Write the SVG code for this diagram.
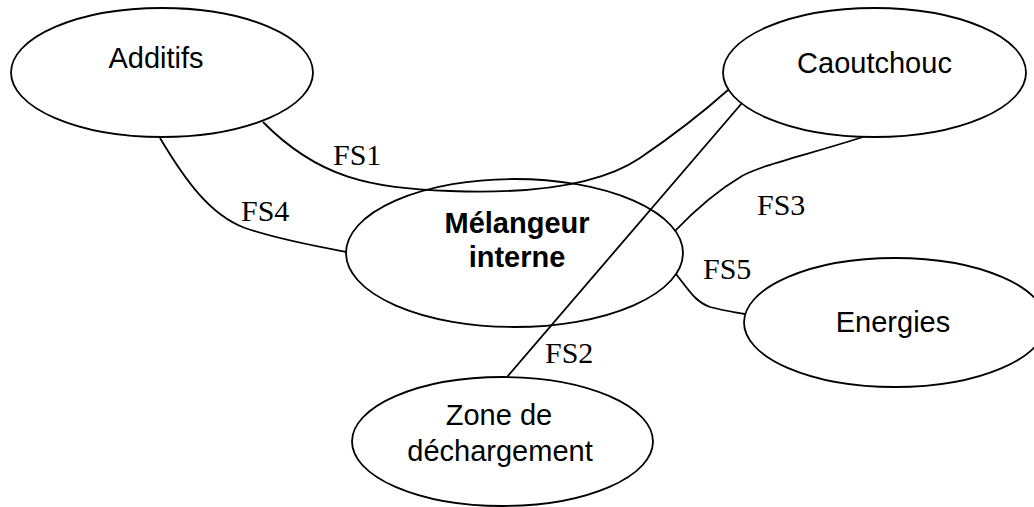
<svg xmlns="http://www.w3.org/2000/svg" width="1034" height="507" viewBox="0 0 1034 507">
<style>
.n{fill:none;stroke:#000;stroke-width:1.8}
.c{fill:none;stroke:#000;stroke-width:1.8}
.t{font-family:"Liberation Sans",Arial,sans-serif;font-size:29px;fill:#000;text-anchor:middle}
.b{font-weight:bold}
.l{font-family:"Liberation Serif","Times New Roman",serif;font-size:30px;fill:#000}
</style>
<rect width="1034" height="507" fill="#fff"/>
<g id="node-additifs"><ellipse class="n" cx="162" cy="72.5" rx="151" ry="64.5"/><text class="t" x="156" y="68">Additifs</text></g>
<g id="node-caoutchouc"><ellipse class="n" cx="874.5" cy="72.5" rx="151.5" ry="64.5"/><text class="t" x="874.5" y="73">Caoutchouc</text></g>
<g id="node-energies"><ellipse class="n" cx="895" cy="322.5" rx="151" ry="64.5"/><text class="t" x="893" y="332">Energies</text></g>
<g id="node-zone"><ellipse class="n" cx="502.5" cy="441.5" rx="150.5" ry="64.5"/><text class="t" x="499" y="425">Zone de</text><text class="t" x="500" y="461">déchargement</text></g>
<g id="node-melangeur"><ellipse class="n" cx="514.5" cy="253" rx="168.5" ry="74"/><text class="t b" x="517" y="233">Mélangeur</text><text class="t b" x="517" y="267">interne</text></g>
<g id="connectors">
<path class="c" d="M263,122 C318,178 370,188 450,191 C530,194 600,185 640,158 C665,141 700,115 728,90"/>
<path class="c" d="M742,103 L507,377"/>
<path class="c" d="M863,137 C800,157 762,165 742,176 C715,192 695,210 675,231"/>
<path class="c" d="M160,138 C185,180 210,215 245,228 C280,240 320,247 347,252"/>
<path class="c" d="M676,274 C690,292 696,302 710,307 C725,311 735,312 745,314"/>
</g>
<g id="labels">
<text class="l" x="333" y="165">FS1</text>
<text class="l" x="545" y="363">FS2</text>
<text class="l" x="757" y="215">FS3</text>
<text class="l" x="241" y="221">FS4</text>
<text class="l" x="703" y="279">FS5</text>
</g>
</svg>
